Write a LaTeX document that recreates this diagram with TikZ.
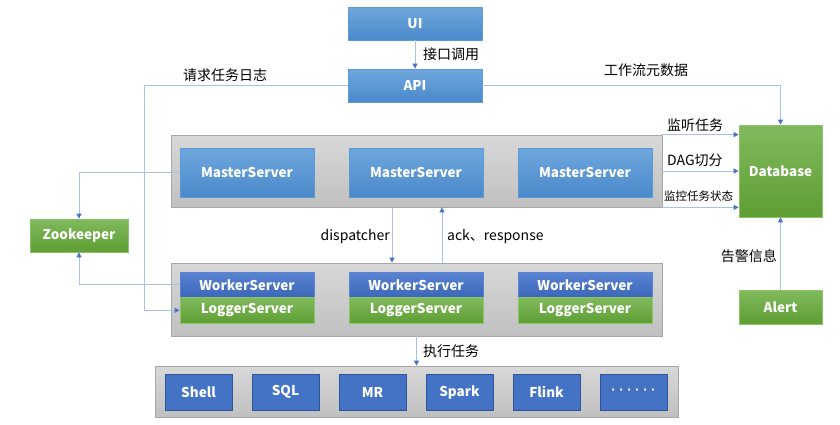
\documentclass[tikz,border=0pt]{standalone}
\usepackage{fontspec}
\setmainfont{Noto Sans CJK SC}
\newfontfamily\dotfont{Liberation Sans}
\usetikzlibrary{arrows.meta,calc}
\definecolor{lineblue}{HTML}{A9C1E8}
\definecolor{tipblue}{HTML}{4472C4}
\definecolor{mtop}{HTML}{6FA7DD}
\definecolor{mbot}{HTML}{4A89CA}
\definecolor{mbord}{HTML}{5B9BD5}
\definecolor{wtop}{HTML}{5B84D2}
\definecolor{wbot}{HTML}{3A66BA}
\definecolor{gtop}{HTML}{80BA5D}
\definecolor{gbot}{HTML}{5E9E33}
\definecolor{gbord}{HTML}{8CC46A}
\definecolor{graytop}{HTML}{D8D8D8}
\definecolor{graybot}{HTML}{C0C0C0}
\definecolor{grayb}{HTML}{A8A8A8}
\definecolor{taskfill}{HTML}{4472C4}
\definecolor{taskbord}{HTML}{2F5597}
\tikzset{
  x=1pt,y=-1pt,
  bfont/.style={font=\fontsize{13.5}{15}\selectfont\bfseries},
  box/.style={draw=mbord, line width=0.8pt, top color=mtop, bottom color=mbot, text=white,
     bfont, inner sep=0pt, minimum width=134pt, minimum height=33pt},
  mbox/.style={box, minimum height=49pt},
  wbox/.style={draw=wtop, line width=0.8pt, top color=wtop, bottom color=wbot, text=white,
     bfont, inner sep=0pt, minimum width=134pt, minimum height=25.5pt},
  lbox/.style={draw=gbord, line width=0.8pt, top color=gtop, bottom color=gbot, text=white,
     bfont, inner sep=0pt, minimum width=134pt, minimum height=25.5pt},
  gbox/.style={draw=gbord, line width=0.8pt, top color=gtop, bottom color=gbot, text=white,
     bfont, inner sep=0pt},
  grp/.style={draw=grayb, line width=0.8pt, top color=graytop, bottom color=graybot, inner sep=0pt},
  task/.style={draw=taskbord, line width=0.8pt, fill=taskfill, text=white,
     bfont, inner sep=0pt, minimum width=67pt, minimum height=36pt},
  conn/.style={draw=lineblue, line width=0.9pt, -{Triangle[length=5pt,width=5pt,color=tipblue]}},
  lbl/.style={font=\fontsize{14}{16}\selectfont, inner sep=0pt, text=black},
  slbl/.style={font=\fontsize{11.5}{13}\selectfont, inner sep=0pt, text=black},
}
\begin{document}
\begin{tikzpicture}
\useasboundingbox (0,0) rectangle (840,424);
\fill[white] (0,0) rectangle (840,424);

% group boxes
\node[grp, minimum width=491pt, minimum height=72pt] (mg) at (416.5,171) {};
\node[grp, minimum width=491pt, minimum height=73pt] (wg) at (416.5,299.5) {};
\node[grp, minimum width=523pt, minimum height=51pt] (tg) at (416.5,391.5) {};

% top
\node[box] (ui) at (415,23.5) {UI};
\node[box] (api) at (415,85.5) {API};

% masters
\node[mbox] (m1) at (247,172.5) {MasterServer};
\node[mbox] (m2) at (416,172.5) {MasterServer};
\node[mbox] (m3) at (585,172.5) {MasterServer};

% workers
\node[wbox] (w1) at (247,284.75) {WorkerServer};
\node[lbox] (l1) at (247,310.25) {LoggerServer};
\node[wbox] (w2) at (416,284.75) {WorkerServer};
\node[lbox] (l2) at (416,310.25) {LoggerServer};
\node[wbox] (w3) at (585,284.75) {WorkerServer};
\node[lbox] (l3) at (585,310.25) {LoggerServer};

% tasks
\node[task] (t1) at (198.5,392) {Shell};
\node[task] (t2) at (285.5,392) {SQL};
\node[task] (t3) at (372.5,392) {MR};
\node[task] (t4) at (459.5,392) {Spark};
\node[task] (t5) at (546.5,392) {Flink};
\node[task] (t6) at (633.5,392) {\dotfont\bfseries ·\hspace{3.5pt}·\hspace{3.5pt}·\hspace{3.5pt}·\hspace{3.5pt}·\hspace{3.5pt}·};

% side boxes
\node[gbox, minimum width=83pt, minimum height=92pt] (db) at (780.5,171) {Database};
\node[gbox, minimum width=83pt, minimum height=34pt] (al) at (780.5,307) {Alert};
\node[gbox, minimum width=98pt, minimum height=33pt] (zk) at (79,235.5) {Zookeeper};

% connectors
\draw[conn] (ui.south) -- (api.north);
\draw[conn] (api.west) -- ++(-203,0) |- (l1.west);
\draw[conn] (api.east) -| (db.north);
\draw[conn] (mg.north east) -- (mg.north east -| db.west);
\draw[conn] (mg.east) -- (mg.east -| db.west);
\draw[conn] (mg.south east) -- (mg.south east -| db.west);
\draw[conn] (m1.west) -| (zk.north);
\draw[conn] (w1.west) -| (zk.south);
\draw[conn] ([xshift=-24.5pt]mg.south) -- ([xshift=-24.5pt]wg.north);
\draw[conn] ([xshift=25.5pt]wg.north) -- ([xshift=25.5pt]mg.south);
\draw[conn] (wg.south) -- (tg.north);
\draw[conn] (al.north) -- (db.south);

% labels
\node[lbl, anchor=west] (lb1) at (423,54) {接口调用};
\node[lbl] (lb2) at (225,75) {请求任务日志};
\node[lbl] (lb3) at (646,70) {工作流元数据};
\node[lbl, anchor=west] (lb4) at (667,125) {监听任务};
\node[lbl, anchor=west] (lb5) at (667,160) {DAG切分};
\node[slbl, anchor=west] (lb6) at (664,196) {监控任务状态};
\node[lbl, anchor=east] (lb7) at (390,237) {dispatcher};
\node[lbl, anchor=west] (lb8) at (447,237) {ack、response};
\node[lbl, anchor=east] (lb9) at (777,256) {告警信息};
\node[lbl, anchor=west] (lb10) at (423,351) {执行任务};
\end{tikzpicture}
\end{document}
